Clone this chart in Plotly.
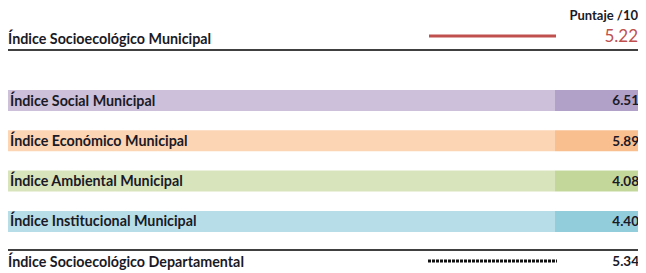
import plotly.graph_objects as go

# ---- data ----
sub_labels = ["Índice Social Municipal", "Índice Económico Municipal",
              "Índice Ambiental Municipal", "Índice Institucional Municipal"]
sub_values = [6.51, 5.89, 4.08, 4.40]
light_colors = ["#ccc0da", "#fcd5b4", "#d8e4bc", "#b7dee8"]
dark_colors = ["#b1a0c7", "#fabf8f", "#c4d79b", "#92cddc"]

mun_label = "Índice Socioecológico Municipal"
mun_value = 5.22
dep_label = "Índice Socioecológico Departamental"
dep_value = 5.34
header = "Puntaje /10"

# ---- layout geometry (pixel space of the page; page body has an 8px margin) ----
W, H = 646, 273
OFF = 8
row_y = [100.5 + 40.3 * i for i in range(len(sub_labels))]
mun_y = 40.5
dep_y = 263
TXT = "#1a1a26"
FONT = "Lato, Liberation Sans, Arial, sans-serif"
LBL = 14.3
VAL = 13.5

fig = go.Figure()

# label cells
fig.add_trace(go.Bar(orientation="h", y=row_y, x=[550] * len(row_y), base=5,
                     width=21, marker=dict(color=light_colors, line=dict(width=0)),
                     hoverinfo="skip", showlegend=False))
# value cells
fig.add_trace(go.Bar(orientation="h", y=row_y, x=[88] * len(row_y), base=555,
                     width=21, marker=dict(color=dark_colors, line=dict(width=0)),
                     hoverinfo="skip", showlegend=False))

# row labels
fig.add_trace(go.Scatter(x=[10] * len(row_y), y=[y + 1.5 for y in row_y], mode="text",
                         text=["<b>%s</b>" % s for s in sub_labels],
                         textposition="middle right", cliponaxis=False,
                         textfont=dict(family=FONT, size=LBL, color=TXT),
                         hoverinfo="skip", showlegend=False))
# row values
fig.add_trace(go.Scatter(x=[639] * len(row_y), y=[y + 1.5 for y in row_y], mode="text",
                         text=["<b>%.2f</b>" % v for v in sub_values],
                         textposition="middle left", cliponaxis=False,
                         textfont=dict(family=FONT, size=VAL, color=TXT),
                         hoverinfo="skip", showlegend=False))

# municipal row
fig.add_trace(go.Scatter(x=[8], y=[mun_y], mode="text",
                         text=["<b>%s</b>" % mun_label],
                         textposition="middle right", cliponaxis=False,
                         textfont=dict(family=FONT, size=LBL, color=TXT),
                         hoverinfo="skip", showlegend=False))
fig.add_trace(go.Scatter(x=[429, 556], y=[36, 36], mode="lines",
                         line=dict(color="#c0504d", width=3),
                         hoverinfo="skip", showlegend=False))
fig.add_trace(go.Scatter(x=[638], y=[38], mode="text", text=["%.2f" % mun_value],
                         textposition="middle left", cliponaxis=False,
                         textfont=dict(family=FONT, size=17, color="#c0504d"),
                         hoverinfo="skip", showlegend=False))

# departmental row
fig.add_trace(go.Scatter(x=[8], y=[dep_y], mode="text",
                         text=["<b>%s</b>" % dep_label],
                         textposition="middle right", cliponaxis=False,
                         textfont=dict(family=FONT, size=LBL, color=TXT),
                         hoverinfo="skip", showlegend=False))
fig.add_trace(go.Scatter(x=[428, 557], y=[261, 261], mode="lines",
                         line=dict(color="#111111", width=3, dash="3px,1px"),
                         hoverinfo="skip", showlegend=False))
fig.add_trace(go.Scatter(x=[639], y=[dep_y], mode="text",
                         text=["<b>%.2f</b>" % dep_value],
                         textposition="middle left", cliponaxis=False,
                         textfont=dict(family=FONT, size=VAL, color=TXT),
                         hoverinfo="skip", showlegend=False))

# header
fig.add_trace(go.Scatter(x=[638], y=[16.5], mode="text", text=["<b>%s</b>" % header],
                         textposition="middle left", cliponaxis=False,
                         textfont=dict(family=FONT, size=13, color=TXT),
                         hoverinfo="skip", showlegend=False))

# rules
for yy in (50, 250):
    fig.add_shape(type="line", x0=5, x1=641, y0=yy, y1=yy, xref="x", yref="y",
                  line=dict(color="#404040", width=2))

fig.update_layout(
    width=W - OFF, height=H - OFF, margin=dict(l=0, r=0, t=0, b=0),
    paper_bgcolor="white", plot_bgcolor="white", barmode="overlay",
    xaxis=dict(range=[OFF, W], visible=False, fixedrange=True),
    yaxis=dict(range=[H, OFF], visible=False, fixedrange=True),
)

fig.write_html("out.html")
